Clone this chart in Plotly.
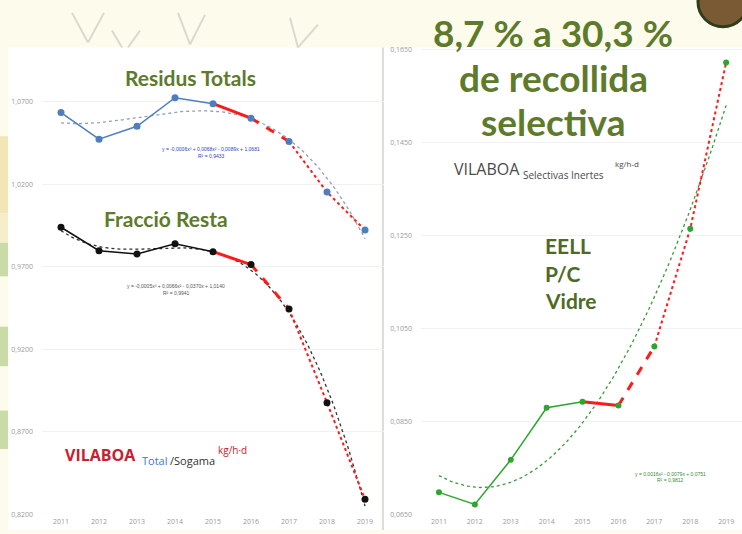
import numpy as np
import plotly.graph_objects as go

W, H = 742, 534

years = [2011, 2012, 2013, 2014, 2015, 2016, 2017, 2018, 2019]
year_labels = [str(y) for y in years]

# Left chart: VILABOA Total / Sogama (kg/h·d)
residus_totals = [1.0634, 1.0473, 1.0551, 1.0724, 1.0688, 1.0600, 1.0459, 1.0152, 0.9922]
fraccio_resta = [0.9939, 0.9797, 0.9777, 0.9839, 0.9791, 0.9713, 0.9444, 0.8876, 0.8290]
left_ticks = [0.82, 0.87, 0.92, 0.97, 1.02, 1.07]

# Right chart: VILABOA Selectivas Inertes (kg/h·d)
selectivas = [0.0697, 0.0671, 0.0767, 0.0879, 0.0892, 0.0884, 0.1011, 0.1264, 0.1622]
right_ticks = [0.065, 0.085, 0.105, 0.125, 0.145, 0.165]

eq_blue = ["y = -0,0006x³ + 0,0068x² - 0,0089x + 1,0681", "R² = 0,9433"]
eq_black = ["y = -0,0005x³ + 0,0066x² - 0,0370x + 1,0140", "R² = 0,9941"]
eq_green = ["y = 0,0016x² - 0,0079x + 0,0751", "R² = 0,9812"]

title_lines = ["8,7 % a 30,3 %", "de recollida", "selectiva"]
material_lines = ["EELL", "P/C", "Vidre"]

OLIVE = "#5E7A2B"
RED = "#FF1A1A"


def px(x):
    return x / W


def py(y):
    return 1 - y / H


fig = go.Figure()


def add_series(vals, color, xa, ya, deg, trend_color, msize, lw):
    xs = np.array(years, dtype=float)
    # polynomial trendline fitted to the series (as in the spreadsheet)
    coef = np.polyfit(xs - 2011, np.array(vals), deg)
    xt = np.linspace(2011, 2019, 120)
    yt = np.polyval(coef, xt - 2011)
    fig.add_trace(go.Scatter(x=xt, y=yt, mode="lines", xaxis=xa, yaxis=ya,
                             line=dict(color=trend_color, width=1.3, dash="dot"),
                             hoverinfo="skip"))
    fig.add_trace(go.Scatter(x=years[:5], y=vals[:5], mode="lines", xaxis=xa, yaxis=ya,
                             line=dict(color=color, width=lw)))
    fig.add_trace(go.Scatter(x=years[4:6], y=vals[4:6], mode="lines", xaxis=xa, yaxis=ya,
                             line=dict(color=RED, width=3)))
    fig.add_trace(go.Scatter(x=years[5:7], y=vals[5:7], mode="lines", xaxis=xa, yaxis=ya,
                             line=dict(color=RED, width=3, dash="dash")))
    fig.add_trace(go.Scatter(x=years[6:], y=vals[6:], mode="lines", xaxis=xa, yaxis=ya,
                             line=dict(color=RED, width=2, dash="dot")))
    fig.add_trace(go.Scatter(x=years, y=vals, mode="markers", xaxis=xa, yaxis=ya,
                             marker=dict(color=color, size=msize)))


add_series(residus_totals, "#4E7EC0", "x", "y", 3, "#8FA0B8", 7, 1.5)
add_series(fraccio_resta, "#111111", "x", "y", 3, "#333333", 7, 1.5)
add_series(selectivas, "#2EA52E", "x2", "y2", 2, "#3A9A3A", 6, 1.5)

ydom = [py(518), py(45)]
left_top = 0.82 + (518 - 45) / 1672
right_top = 0.065 + (518 - 45) / 4710

tickfont = dict(family="Open Sans", size=7, color="#9A9A9A")

fig.update_layout(
    width=W, height=H,
    margin=dict(l=0, r=0, t=0, b=0),
    paper_bgcolor="#FDFCEC",
    plot_bgcolor="rgba(0,0,0,0)",
    showlegend=False,
    separators=",.",
    xaxis=dict(domain=[px(42), px(384)], range=[2010.5, 2019.5],
               tickvals=years, ticktext=year_labels, tickfont=tickfont,
               showgrid=False, zeroline=False, showline=False, ticks="",
               ticklabelstandoff=2),
    yaxis=dict(domain=ydom, range=[0.82, left_top], tickvals=left_ticks,
               tickformat=".4f", tickfont=tickfont, gridcolor="#F1F1F1",
               zeroline=False, showline=False, ticks="", ticklabelstandoff=8),
    xaxis2=dict(domain=[px(421), 1.0], range=[2010.5, 2010.5 + 321 / 35.9],
                anchor="y2", tickvals=years, ticktext=year_labels, tickfont=tickfont,
                showgrid=False, zeroline=False, showline=False, ticks="",
                ticklabelstandoff=2),
    yaxis2=dict(domain=ydom, range=[0.065, right_top], anchor="x2",
                tickvals=right_ticks, tickformat=".4f", tickfont=tickfont,
                gridcolor="#F1F1F1", zeroline=False, showline=False, ticks="",
                ticklabelstandoff=8),
)

shapes = []
# white panels
shapes.append(dict(type="rect", xref="paper", yref="paper", x0=px(8), x1=px(381),
                   y0=0, y1=py(45), fillcolor="white", line=dict(width=0), layer="below"))
shapes.append(dict(type="rect", xref="paper", yref="paper", x0=px(383), x1=1,
                   y0=0, y1=py(45), fillcolor="white", line=dict(width=0), layer="below"))
shapes.append(dict(type="line", xref="paper", yref="paper", x0=px(383), x1=px(383),
                   y0=0, y1=py(45), line=dict(color="#DDDDDD", width=2), layer="below"))
# left strip bands
for (a, b, c) in [(135, 213, "#F2E6B6"), (213, 243, "#F6EDCB"), (243, 277, "#C9DBA6"),
                  (328, 368, "#C9DBA6"), (413, 452, "#C9DBA6")]:
    shapes.append(dict(type="rect", xref="paper", yref="paper", x0=0, x1=px(8),
                       y0=py(b), y1=py(a), fillcolor=c, line=dict(width=0), layer="below"))
# decorative sketch lines at top
for (x0, y0, x1, y1) in [(72, 10, 88, 40), (104, 10, 88, 40), (112, 28, 122, 45),
                         (140, 28, 128, 45), (178, 10, 190, 42), (205, 12, 190, 42),
                         (290, 15, 298, 45), (318, 22, 298, 45)]:
    shapes.append(dict(type="line", xref="paper", yref="paper", x0=px(x0), y0=py(y0),
                       x1=px(x1), y1=py(y1), line=dict(color="#D9D9CF", width=2),
                       layer="below"))
# logo at top-right
shapes.append(dict(type="circle", xref="paper", yref="paper", x0=px(698), x1=px(748),
                   y0=py(24), y1=py(-26), fillcolor="#7A5A35",
                   line=dict(color="#2F3D1B", width=3)))
fig.update_layout(shapes=shapes)

ann = []


def text(x, y, s, size, color, anchor="center", bold=False, family="Lato"):
    ann.append(dict(xref="paper", yref="paper", x=px(x), y=py(y), text=("<b>%s</b>" % s) if bold else s,
                    showarrow=False, xanchor=anchor, yanchor="middle",
                    font=dict(family=family, size=size, color=color)))


text(190, 75, "Residus Totals", 21, OLIVE, bold=True)
text(166, 218, "Fracció Resta", 21, OLIVE, bold=True)
for s, yy in zip(title_lines, [30, 75, 120]):
    text(553, yy, s, 37, OLIVE, bold=True)
for s, yy in zip(material_lines, [246, 274, 301]):
    text(543, yy, s, 21, "#4F6A24", anchor="left", bold=True)

text(211, 148, eq_blue[0], 5, "#2C3FC0", family="Liberation Sans")
text(211, 155, eq_blue[1], 5, "#2C3FC0", family="Liberation Sans")
text(176, 287, eq_black[0], 5, "#555555", family="Liberation Sans")
text(176, 294, eq_black[1], 5, "#555555", family="Liberation Sans")
text(670, 477, eq_green[0], 5, "#3A8A3A", family="Liberation Sans")
text(670, 483, eq_green[1], 5, "#3A8A3A", family="Liberation Sans")

text(63, 458, "VILABOA", 16, "#C8202E", anchor="left", bold=True, family="Open Sans")
text(140, 464, "Total", 11, "#3A7BD5", anchor="left", family="Open Sans")
text(168, 464, "/Sogama", 11, "#333333", anchor="left", family="Open Sans")
text(216, 453, "kg/h·d", 10, "#C8202E", anchor="left", family="Open Sans")

text(452, 168, "VILABOA", 16, "#4A4A4A", anchor="left", family="Open Sans")
text(521, 174, "Selectivas Inertes", 10, "#4A4A4A", anchor="left", family="Open Sans")
text(613, 163, "kg/h-d", 8, "#4A4A4A", anchor="left", family="Open Sans")

fig.update_layout(annotations=ann)

fig.write_html("out.html", config={"displayModeBar": False})

# remove the default page margin so the figure fills the window exactly
with open("out.html", "r", encoding="utf-8") as f:
    html = f.read()
html = html.replace("<head>", "<head><style>html,body{margin:0;padding:0;overflow:hidden;}</style>", 1)
with open("out.html", "w", encoding="utf-8") as f:
    f.write(html)
